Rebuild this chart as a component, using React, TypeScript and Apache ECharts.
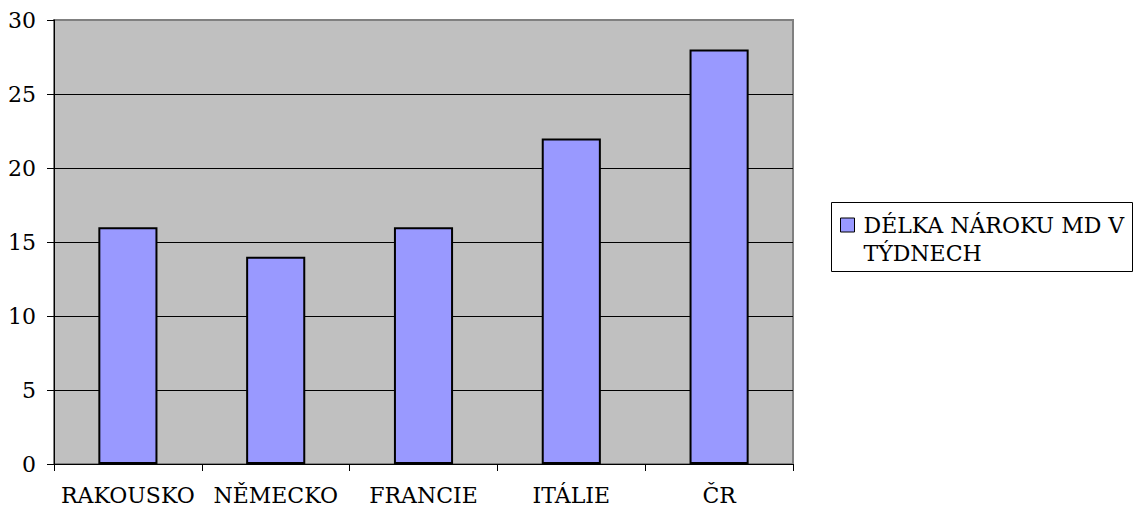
import React, { useEffect, useRef } from "react";
import * as echarts from "echarts";

const categories = ["RAKOUSKO", "NĚMECKO", "FRANCIE", "ITÁLIE", "ČR"];
const values = [16, 14, 16, 22, 28];
const seriesName = "DÉLKA NÁROKU MD V\nTÝDNECH";
const yTicks = { min: 0, max: 30, interval: 5 };

const FONT = "DejaVu Serif";
const FS = 22;

export default function App() {
  const ref = useRef<HTMLDivElement>(null);
  useEffect(() => {
    if (!ref.current) return;
    const chart = echarts.init(ref.current, undefined, { renderer: "svg" });
    chart.setOption({
      animation: false,
      backgroundColor: "#ffffff",
      textStyle: { fontFamily: FONT, color: "#000" },
      grid: {
        left: 54,
        right: 345,
        top: 20,
        bottom: 49,
        show: true,
        backgroundColor: "#C0C0C0",
        borderColor: "#808080",
        borderWidth: 2,
      },
      graphic: [
        {
          type: "rect",
          left: 831,
          top: 202,
          z: 0,
          shape: { width: 301, height: 69 },
          style: { fill: "#fff", stroke: "#000", lineWidth: 1 },
        },
      ],
      legend: {
        left: 840,
        top: 183,
        orient: "vertical",
        padding: 0,
        z: 10,
        icon: "rect",
        itemWidth: 14,
        itemHeight: 14,
        itemGap: 0,
        formatter: (name: string) => "\n" + name,
        textStyle: {
          fontFamily: FONT,
          fontSize: FS,
          color: "#000",
          lineHeight: 28,
          padding: [0, 0, 0, 4],
        },
        data: [{ name: seriesName, itemStyle: { color: "#9999FF", borderColor: "#000", borderWidth: 1 } }],
      },
      xAxis: {
        type: "category",
        data: categories,
        boundaryGap: true,
        axisLine: { show: true, lineStyle: { color: "#000", width: 1 } },
        axisTick: { show: true, alignWithLabel: false, length: 7, lineStyle: { color: "#000" } },
        axisLabel: { fontFamily: FONT, fontSize: FS, color: "#000", margin: 20, interval: 0 },
        splitLine: { show: false },
      },
      yAxis: {
        type: "value",
        min: yTicks.min,
        max: yTicks.max,
        interval: yTicks.interval,
        axisLine: { show: true, lineStyle: { color: "#000", width: 1 } },
        axisTick: { show: true, length: 7, lineStyle: { color: "#000" } },
        axisLabel: { fontFamily: FONT, fontSize: FS, color: "#000", margin: 18 },
        splitLine: { show: true, showMaxLine: false, lineStyle: { color: "#000", width: 1 } },
      },
      series: [
        {
          name: seriesName,
          type: "bar",
          data: values,
          barWidth: "40%",
          itemStyle: { color: "#9999FF", borderColor: "#000", borderWidth: 2 },
        },
      ],
    });
    return () => chart.dispose();
  }, []);
  return (
    <div
      ref={ref}
      style={{ position: "fixed", left: 0, top: 0, width: 1138, height: 513 }}
    />
  );
}
